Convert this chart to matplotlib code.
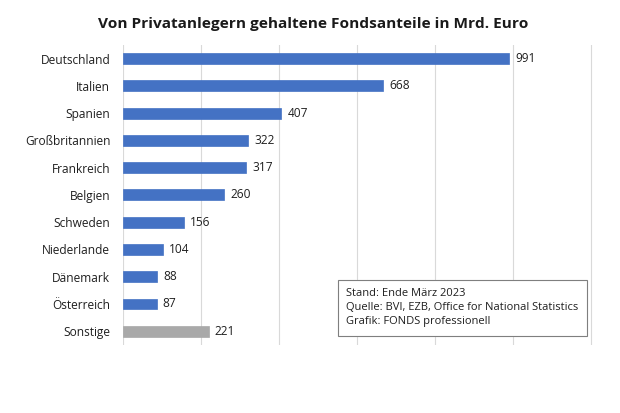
import matplotlib
matplotlib.use('Agg')
import matplotlib.pyplot as plt

# Daten: Fondsanteile von Privatanlegern in Mrd. Euro (Ende März 2023)
countries = ['Deutschland', 'Italien', 'Spanien', 'Großbritannien', 'Frankreich',
             'Belgien', 'Schweden', 'Niederlande', 'Dänemark', 'Österreich', 'Sonstige']
values = [991, 668, 407, 322, 317, 260, 156, 104, 88, 87, 221]
bar_colors = ['#4472C4'] * 10 + ['#A9A9A9']
grid_ticks = [0, 200, 400, 600, 800, 1000, 1200]

plt.rcParams['font.family'] = ['Open Sans', 'DejaVu Sans']

fig = plt.figure(figsize=(6.2, 4.13), dpi=100)
ax = fig.add_axes([0.198, 0.165, 0.758, 0.726])

y = list(range(len(countries)))
ax.barh(y, values, height=0.4, color=bar_colors, edgecolor=bar_colors, linewidth=0.5, zorder=3)

for yi, v in zip(y, values):
    ax.text(v + 15, yi, str(v), va='center', ha='left', fontsize=8.6, color='#1f1f1f')

ax.set_yticks(y)
ax.set_yticklabels(countries, fontsize=8.6, color='#1f1f1f')
ax.set_ylim(len(countries) - 0.5, -0.5)
ax.set_xlim(0, 1205)
ax.set_xticks(grid_ticks)
ax.set_xticklabels([])
ax.tick_params(axis='both', length=0)
ax.tick_params(axis='y', pad=9)
ax.grid(axis='x', color='#D9D9D9', linewidth=0.8, zorder=0)
for s in ax.spines.values():
    s.set_visible(False)

fig.text(0.505, 0.942, 'Von Privatanlegern gehaltene Fondsanteile in Mrd. Euro',
         ha='center', va='center', fontsize=11.1, fontweight='bold', color='#1a1a1a')

note = 'Stand: Ende März 2023\nQuelle: BVI, EZB, Office for National Statistics\nGrafik: FONDS professionell'
fig.text(0.558, 0.255, note, ha='left', va='center', fontsize=8, color='#1f1f1f',
         linespacing=1.4,
         bbox=dict(boxstyle='square,pad=0.75', facecolor='white', edgecolor='#7F7F7F', linewidth=0.8))

fig.savefig('out.png', dpi=100)
